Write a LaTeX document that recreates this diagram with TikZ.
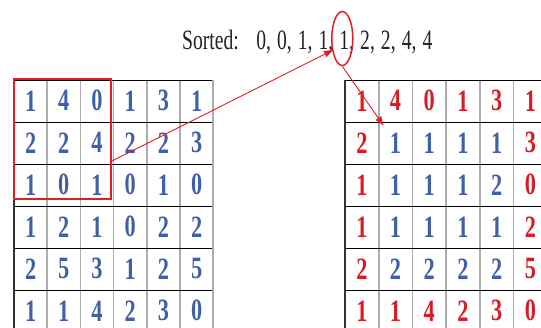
\documentclass[tikz,border=0pt]{standalone}
\usepackage{fontspec}
\setmainfont{Liberation Serif}
\usetikzlibrary{shapes.geometric,arrows.meta}
\definecolor{digblue}{RGB}{62,96,168}
\definecolor{digred}{RGB}{215,28,38}
\definecolor{markred}{RGB}{225,30,40}
\definecolor{titlegray}{RGB}{35,35,35}
\newcommand\digtxt[1]{\scalebox{0.72}[1]{#1}}
\begin{document}
\begin{tikzpicture}[x=1pt,y=-1pt,
  cell/.style={minimum width=33pt,minimum height=20pt,inner sep=0pt,
    font=\fontsize{31}{34}\selectfont\bfseries},
  hline/.style={draw=black,line width=1.2pt},
  vline/.style={draw=gray!65,line width=1.6pt},
  bline/.style={draw=black!80,line width=1.4pt},
  win/.style={draw=markred,line width=2pt,inner sep=0pt},
  arr/.style={draw=markred,line width=0.9pt,-{Triangle[length=9pt,width=6.5pt]}},
  circ/.style={draw=markred,line width=1.5pt,ellipse,inner sep=0pt,minimum width=21pt,minimum height=54pt}]
\useasboundingbox (0,0) rectangle (541,328);
\clip (0,0) rectangle (541,328);
\fill[white] (0,0) rectangle (541,328);
% title
\node[anchor=base west,inner sep=0pt,text=titlegray] (title) at (182,50)
  {\scalebox{0.7}[1]{\fontsize{28}{32}\selectfont\spaceskip=0.31em\relax Sorted:\hspace{0.5em} 0, 0, 1, 1, 1, 2, 2, 4, 4}};
% left grid lines
\foreach \i in {1,...,5} \draw[vline] (14+\i*33.2,80.5) -- (14+\i*33.2,333);
\foreach \j in {0,...,6} \draw[hline] (14,80.5+\j*42) -- (213.2,80.5+\j*42);
\draw[bline] (14,80.5) -- (14,333);
\draw[vline] (213.2,80.5) -- (213.2,333);
% right grid lines
\foreach \i in {1,...,6} \draw[vline] (345+\i*33.7,80.5) -- (345+\i*33.7,333);
\foreach \j in {0,...,6} \draw[hline] (345,80.5+\j*42) -- (548,80.5+\j*42);
\draw[bline] (345,80.5) -- (345,333);
% left grid digits
\foreach \row [count=\r] in {{1,4,0,1,3,1},{2,2,4,2,2,3},{1,0,1,0,1,0},{1,2,1,0,2,2},{2,5,3,1,2,5},{1,1,4,2,3,0}}{
  \foreach \v [count=\c] in \row {
    \node[cell,text=digblue,yshift=0.7pt] (L-\r-\c) at (14+\c*33.2-16.6,80.5+\r*42-21) {\digtxt{\v}};
  }
}
% right grid digits
\foreach \row [count=\r] in {{1,4,0,1,3,1},{2,1,1,1,1,3},{1,1,1,1,2,0},{1,1,1,1,1,2},{2,2,2,2,2,5},{1,1,4,2,3,0}}{
  \foreach \v [count=\c] in \row {
    \pgfmathtruncatemacro\isb{(\r==1)||(\r==6)||(\c==1)||(\c==6)}
    \ifnum\isb=1 \def\dcol{digred}\else\def\dcol{digblue}\fi
    \node[cell,text=\dcol,yshift=0.7pt] (R-\r-\c) at (345+\c*33.7-16.85,80.5+\r*42-21) {\digtxt{\v}};
  }
}
% window
\node[win,minimum width=97pt,minimum height=120pt] (window) at (62.5,139) {};
\coordinate (wstart) at (111,161.5);
% circle around median
\node[circ] (median) at (342.3,38.5) {};
\coordinate (tip1) at (333,50);
\coordinate (tip2) at (383.5,125.5);
\draw[arr] (wstart) -- (tip1);
\draw[arr] (median.south) -- (tip2);
\end{tikzpicture}
\end{document}
